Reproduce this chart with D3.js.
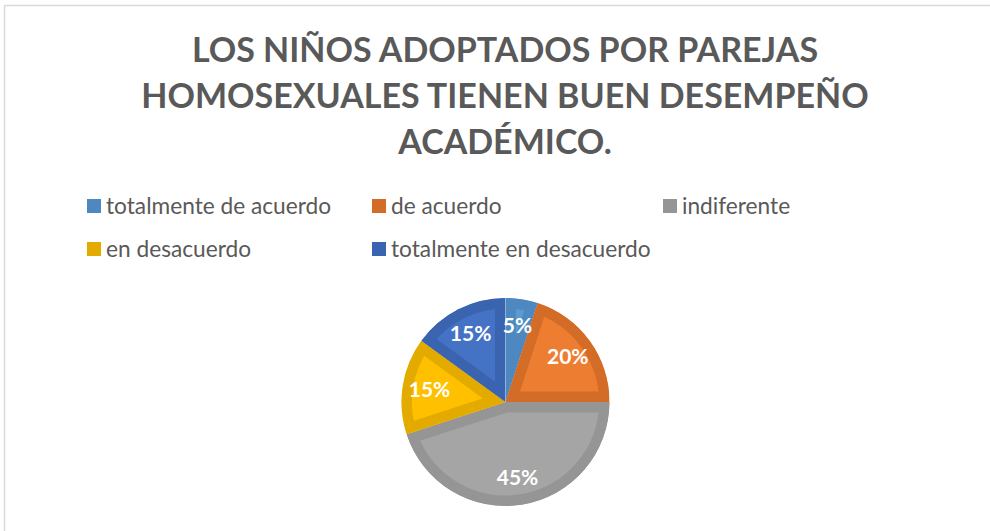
<!DOCTYPE html>
<html>
<head>
<meta charset="utf-8">
<script src="https://cdn.jsdelivr.net/npm/d3@7"></script>
<style>
    html, body { margin: 0; padding: 0; background: #fff; }
    svg { display: block; font-family: Lato, "Open Sans", sans-serif; }
</style>
</head>
<body>
<svg id="chart" width="990" height="531"></svg>
<script>
// Chart data
var titleLines = ['LOS NIÑOS ADOPTADOS POR PAREJAS', 'HOMOSEXUALES TIENEN BUEN DESEMPEÑO', 'ACADÉMICO.'];
var categories = ['totalmente de acuerdo', 'de acuerdo', 'indiferente', 'en desacuerdo', 'totalmente en desacuerdo'];
var values = [5, 20, 45, 15, 15];
var fills = ['#5b9bd5', '#ed7d31', '#a5a5a5', '#ffc000', '#4472c4'];
var edges = ['#4e88c0', '#d36c27', '#959595', '#e3ab00', '#3b64b0'];

var width = 990, height = 531;
var center = { x: 505.5, y: 402 };
var radius = 104;

var svg = d3.select('svg#chart');

// Chart area border
svg.append('rect')
    .attr('x', 4.5).attr('y', 5.5)
    .attr('width', width + 10).attr('height', height + 10)
    .attr('fill', '#fff')
    .attr('stroke', '#d9d9d9')
    .attr('stroke-width', 1.5);

// Title
svg.append('g').selectAll('text')
    .data(titleLines)
    .enter().append('text')
        .attr('x', 505)
        .attr('y', function(d, i) { return 62 + i * 46; })
        .attr('text-anchor', 'middle')
        .attr('fill', '#595959')
        .style('font-size', '34px')
        .style('font-weight', 'bold')
        .text(function(d) { return d; });

// Legend, three columns
var legendX = d3.scaleOrdinal().domain([0, 1, 2]).range([87, 372, 663]);
var legendY = d3.scaleOrdinal().domain([0, 1]).range([206, 249]);

var legend = svg.append('g').selectAll('.legend-item')
    .data(categories)
    .enter().append('g')
        .attr('class', 'legend-item')
        .attr('transform', function(d, i) {
            return 'translate(' + legendX(i % 3) + ',' + legendY(Math.floor(i / 3)) + ')';
        });

legend.append('rect')
    .attr('x', 0).attr('y', -7)
    .attr('width', 14).attr('height', 14)
    .attr('fill', function(d, i) { return edges[i]; });

legend.append('text')
    .attr('x', 19)
    .attr('dy', '0.35em')
    .attr('fill', '#595959')
    .style('font-size', '22.7px')
    .text(function(d) { return d; });

// Pie
var pie = d3.pie().sort(null).value(function(d) { return d; });
var arc = d3.arc().innerRadius(0).outerRadius(radius);
var labelArc = d3.arc().innerRadius(radius * 0.74).outerRadius(radius * 0.74);
var arcs = pie(values);

var defs = svg.append('defs');
defs.selectAll('clipPath')
    .data(arcs)
    .enter().append('clipPath')
        .attr('id', function(d, i) { return 'slice' + i; })
    .append('path')
        .attr('d', arc);

var g = svg.append('g')
    .attr('transform', 'translate(' + center.x + ',' + center.y + ')');

// Each slice gets a darker inner edge, clipped to the slice
g.selectAll('.slice')
    .data(arcs)
    .enter().append('path')
        .attr('class', 'slice')
        .attr('d', arc)
        .attr('clip-path', function(d, i) { return 'url(#slice' + i + ')'; })
        .attr('fill', function(d, i) { return fills[i]; })
        .attr('stroke', function(d, i) { return edges[i]; })
        .attr('stroke-width', 21)
        .attr('stroke-linejoin', 'miter');

g.selectAll('.label')
    .data(arcs)
    .enter().append('text')
        .attr('class', 'label')
        .attr('transform', function(d) { return 'translate(' + labelArc.centroid(d) + ')'; })
        .attr('text-anchor', 'middle')
        .attr('dy', '0.35em')
        .attr('fill', '#fff')
        .style('font-size', '21px')
        .style('font-weight', 'bold')
        .text(function(d) { return d.data + '%'; });
</script>
</body>
</html>
